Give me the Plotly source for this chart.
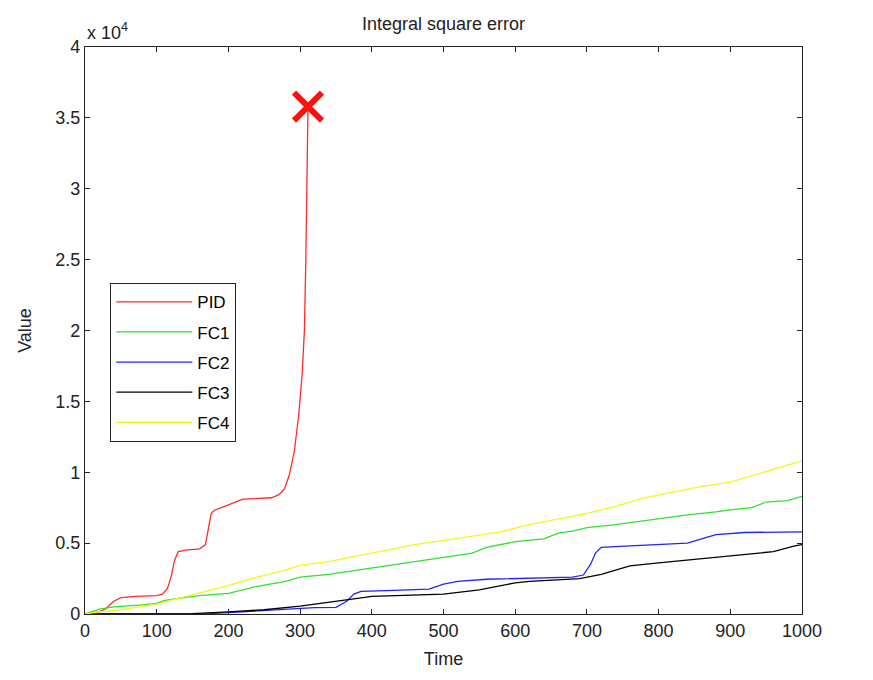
#
# Integral square error plot (PID vs fuzzy controllers)
#
import plotly.graph_objects as go

# --- data ---
pidT = [0, 10, 20, 30, 40, 50, 70, 100, 108, 115, 120, 125, 130, 140, 160, 168, 172, 176, 180, 200,
        220, 260, 270, 278, 285, 292, 298, 303, 306, 308, 310, 311]
pidV = [0, 50, 150, 400, 900, 1150, 1250, 1300, 1400, 1800, 2600, 3800, 4400, 4500, 4600, 4900, 6000,
        7100, 7300, 7700, 8100, 8200, 8400, 8800, 9800, 11500, 14000, 17000, 20000, 25000, 33000, 35800]

fc1T = [0, 10, 20, 40, 60, 80, 100, 110, 130, 160, 200, 240, 280, 300, 340, 380, 420, 460, 500, 540,
        560, 600, 640, 660, 680, 700, 740, 780, 800, 840, 880, 900, 930, 950, 980, 1000]
fc1V = [0, 200, 350, 500, 550, 650, 750, 950, 1100, 1300, 1450, 1950, 2300, 2600, 2800, 3100, 3350,
        3650, 3950, 4300, 4700, 5100, 5300, 5700, 5850, 6100, 6300, 6600, 6750, 7000, 7200, 7350,
        7500, 7900, 8000, 8300]

fc2T = [0, 100, 170, 200, 250, 290, 320, 350, 365, 375, 385, 420, 460, 480, 500, 520, 560, 600, 640,
        680, 695, 705, 712, 720, 760, 800, 840, 860, 880, 920, 960, 1000]
fc2V = [0, 0, 20, 100, 250, 400, 450, 470, 900, 1400, 1600, 1650, 1700, 1750, 2100, 2300, 2450, 2500,
        2550, 2600, 2750, 3500, 4300, 4700, 4800, 4900, 5000, 5300, 5600, 5750, 5800, 5800]

fc3T = [0, 150, 200, 250, 300, 340, 380, 400, 450, 500, 550, 600, 620, 660, 690, 720, 760, 800, 840,
        880, 920, 960, 990, 1000]
fc3V = [0, 30, 150, 300, 550, 800, 1100, 1250, 1300, 1400, 1700, 2200, 2300, 2400, 2500, 2800, 3400,
        3600, 3800, 4000, 4200, 4400, 4800, 4900]

fc4T = [0, 20, 50, 100, 130, 160, 200, 240, 280, 300, 340, 380, 420, 460, 500, 540, 580, 620, 660,
        700, 740, 780, 820, 860, 900, 940, 970, 1000]
fc4V = [0, 150, 300, 700, 1100, 1500, 2000, 2600, 3100, 3450, 3700, 4100, 4500, 4900, 5200, 5500,
        5800, 6300, 6700, 7100, 7600, 8200, 8600, 9000, 9300, 9900, 10400, 10800]

failT = [311]
failV = [35800]

yTicks = [0, 5000, 10000, 15000, 20000, 25000, 30000, 35000, 40000]
yTickText = ['0', '0.5', '1', '1.5', '2', '2.5', '3', '3.5', '4']
xTicks = [0, 100, 200, 300, 400, 500, 600, 700, 800, 900, 1000]

series = [
    ('PID', pidT, pidV, '#ff2a2a'),
    ('FC1', fc1T, fc1V, '#33e033'),
    ('FC2', fc2T, fc2V, '#2222ff'),
    ('FC3', fc3T, fc3V, '#000000'),
    ('FC4', fc4T, fc4V, '#f5f51e'),
]

fig = go.Figure()
for name, t, v, col in series:
    fig.add_trace(go.Scatter(x=t, y=v, mode='lines', name=name, legendgroup=name,
                             line=dict(color=col, width=1.3)))

# the cross where PID blows up
fig.add_trace(go.Scatter(x=failT, y=failV, mode='markers', showlegend=False,
                         marker=dict(symbol='x-thin', size=28, color='#ff1010',
                                     line=dict(width=6, color='#ff1010'))))

fnt = 'Liberation Sans, Arial'
axisFont = dict(family=fnt, size=18, color='#222222')

fig.update_layout(
    width=873, height=680,
    margin=dict(l=85, r=71, t=47, b=66),
    paper_bgcolor='white', plot_bgcolor='white',
    font=axisFont,
    title=dict(text='Integral square error', x=0.5, xref='paper', xanchor='center',
               y=1 - 24 / 680, yanchor='middle', font=dict(family=fnt, size=18, color='#222222')),
    xaxis=dict(range=[0, 1000], tickvals=xTicks, ticks='inside', ticklen=5, tickcolor='#222222',
               showline=True, linecolor='#222222', linewidth=1.3, mirror='ticks',
               showgrid=False, zeroline=False, automargin=False, tickfont=axisFont,
               title=dict(text='Time', standoff=12, font=axisFont)),
    yaxis=dict(range=[0, 40000], tickvals=yTicks, ticktext=yTickText, ticks='inside', ticklen=5,
               tickcolor='#222222', showline=True, linecolor='#222222', linewidth=1.3,
               mirror='ticks', showgrid=False, zeroline=False, automargin=False, tickfont=axisFont,
               title=dict(text='Value', standoff=18, font=axisFont)),
    legend=dict(x=(110 - 85) / 717, y=(614 - 283) / 567, xanchor='left', yanchor='top',
                bgcolor='white', bordercolor='#222222', borderwidth=1.3,
                font=dict(family=fnt, size=17, color='#000000'),
                itemwidth=76, tracegroupgap=5),
    annotations=[dict(text='x 10<sup>4</sup>', xref='paper', yref='paper', x=0, y=1,
                      xanchor='left', yanchor='bottom', yshift=2, showarrow=False,
                      font=axisFont)],
)

# page body has an 8px default margin; drop it so the chart sits at the window corner
fig.write_html("out.html", config={'displayModeBar': False},
               post_script="document.body.style.margin='0';")
